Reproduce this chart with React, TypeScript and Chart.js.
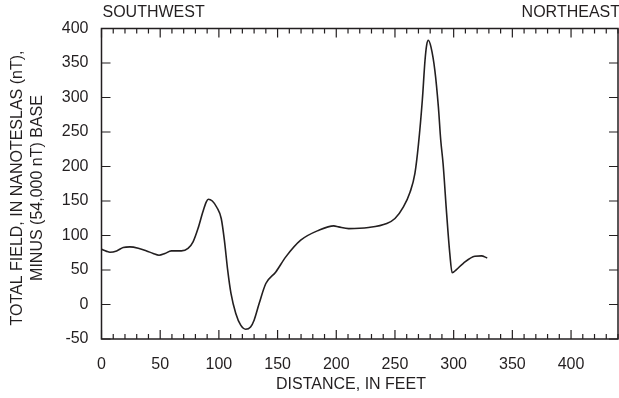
import React, { useEffect, useRef } from "react";
import { Chart, registerables } from "chart.js";

Chart.register(...registerables);

// Profile data (distance in feet, total field in nT minus 54,000 nT base)
const distance = [
  0, 4.4, 7.2, 12.9, 18.5, 24.2, 31.3, 38.4, 44, 49, 54, 59.5, 68, 73.7, 78,
  82.2, 86.3, 89.3, 91, 94.4, 98.3, 102, 104.7, 107.5, 110.3, 114.4, 118.6,
  122.8, 127, 130, 134.3, 140, 148.5, 157, 169.7, 185.2, 197.9, 202, 210.6,
  227.5, 243, 250, 257.2, 262.9, 267, 270, 273.3, 275.6, 277, 278.4, 280.7,
  284, 287, 289, 291, 294, 296.7, 298.7, 302.4, 308, 318, 323.6, 328.6,
];
const field = [
  80, 77, 75.8, 77.7, 82.6, 83.5, 81.6, 77.7, 73.9, 71.4, 73.9, 77.7, 77.7,
  81.2, 90.7, 110, 134, 148.7, 152.6, 150, 140.6, 124.6, 93, 49.7, 16, -13,
  -30, -35.8, -32.5, -22.7, 1.4, 30.4, 47.2, 69, 93.2, 107.7, 114, 112.5, 110,
  111.6, 117.4, 124.6, 141.4, 163, 190, 232, 296, 354, 376, 383, 373, 339, 286,
  238, 204, 132, 74, 46, 50.7, 59.4, 70, 70.4, 67.5,
];

const xTickLabels = [0, 50, 100, 150, 200, 250, 300, 350, 400];
const yTickLabels = [-50, 0, 50, 100, 150, 200, 250, 300, 350, 400];
const xMin = 0;
const xMax = 440;
const xMinorStep = 10;
const yMin = -50;
const yMax = 400;

const leftLabel = "SOUTHWEST";
const rightLabel = "NORTHEAST";
const xTitle = "DISTANCE, IN FEET";
const yTitle = ["TOTAL FIELD, IN NANOTESLAS (nT),", "MINUS (54,000 nT) BASE"];

const INK = "#231f20";
const FONT = "'Liberation Sans', Arial, Helvetica, sans-serif";

const framePlugin = {
  id: "frameTicks",
  afterDraw(chart: any) {
    const { ctx, chartArea: a, scales } = chart;
    const xs = scales.x;
    const ys = scales.y;
    ctx.save();
    ctx.strokeStyle = INK;
    ctx.lineWidth = 1.5;
    ctx.strokeRect(a.left, a.top, a.right - a.left, a.bottom - a.top);
    ctx.lineWidth = 1.2;
    ctx.beginPath();
    for (let v = xMin; v <= xMax; v += xMinorStep) {
      const px = xs.getPixelForValue(v);
      const len = v % 50 === 0 ? 9 : 5;
      ctx.moveTo(px, a.bottom);
      ctx.lineTo(px, a.bottom - len);
      ctx.moveTo(px, a.top);
      ctx.lineTo(px, a.top + len);
    }
    for (const v of yTickLabels) {
      const py = ys.getPixelForValue(v);
      ctx.moveTo(a.left, py);
      ctx.lineTo(a.left + 9, py);
      ctx.moveTo(a.right, py);
      ctx.lineTo(a.right - 9, py);
    }
    ctx.stroke();

    ctx.fillStyle = INK;
    ctx.font = `16px ${FONT}`;
    ctx.textBaseline = "middle";
    ctx.textAlign = "left";
    ctx.fillText(leftLabel, a.left + 1, 13);
    ctx.textAlign = "right";
    ctx.fillText(rightLabel, 620, 13);
    ctx.textAlign = "center";
    ctx.fillText(xTitle, 351, 385);

    ctx.save();
    ctx.translate(18, 188);
    ctx.rotate(-Math.PI / 2);
    ctx.fillText(yTitle[0], 0, 0);
    ctx.restore();
    ctx.save();
    ctx.translate(37.5, 188);
    ctx.rotate(-Math.PI / 2);
    ctx.fillText(yTitle[1], 0, 0);
    ctx.restore();

    ctx.restore();
  },
};

export default function App() {
  const ref = useRef<HTMLCanvasElement | null>(null);
  useEffect(() => {
    if (!ref.current) return;
    const points = distance.map((d, i) => ({ x: d, y: field[i] }));
    const chart = new Chart(ref.current, {
      type: "line",
      data: {
        datasets: [
          {
            data: points,
            borderColor: INK,
            borderWidth: 1.6,
            pointRadius: 0,
            fill: false,
            cubicInterpolationMode: "monotone",
          },
        ],
      },
      options: {
        animation: false,
        responsive: false,
        maintainAspectRatio: false,
        layout: { padding: { top: 28.5, right: 1, left: 0, bottom: 0 } },
        plugins: {
          legend: { display: false },
          tooltip: { enabled: false },
          title: { display: false },
        },
        scales: {
          x: {
            type: "linear",
            min: xMin,
            max: xMax,
            grid: { display: false },
            border: { display: false },
            afterBuildTicks: (s: any) => {
              s.ticks = xTickLabels.map((v) => ({ value: v }));
            },
            afterFit: (s: any) => {
              s.height = 59;
            },
            ticks: {
              autoSkip: false,
              maxRotation: 0,
              padding: 8,
              color: INK,
              font: { family: FONT, size: 16 },
            },
          },
          y: {
            type: "linear",
            min: yMin,
            max: yMax,
            grid: { display: false },
            border: { display: false },
            afterBuildTicks: (s: any) => {
              s.ticks = yTickLabels.map((v) => ({ value: v }));
            },
            afterFit: (s: any) => {
              s.width = 101.5;
            },
            ticks: {
              autoSkip: false,
              padding: 5,
              color: INK,
              font: { family: FONT, size: 16 },
            },
          },
        },
      },
      plugins: [framePlugin],
    });
    return () => chart.destroy();
  }, []);
  return (
    <div style={{ position: "fixed", left: 0, top: 0, width: 619, height: 398 }}>
      <canvas ref={ref} width={619} height={398} style={{ display: "block" }} />
    </div>
  );
}
